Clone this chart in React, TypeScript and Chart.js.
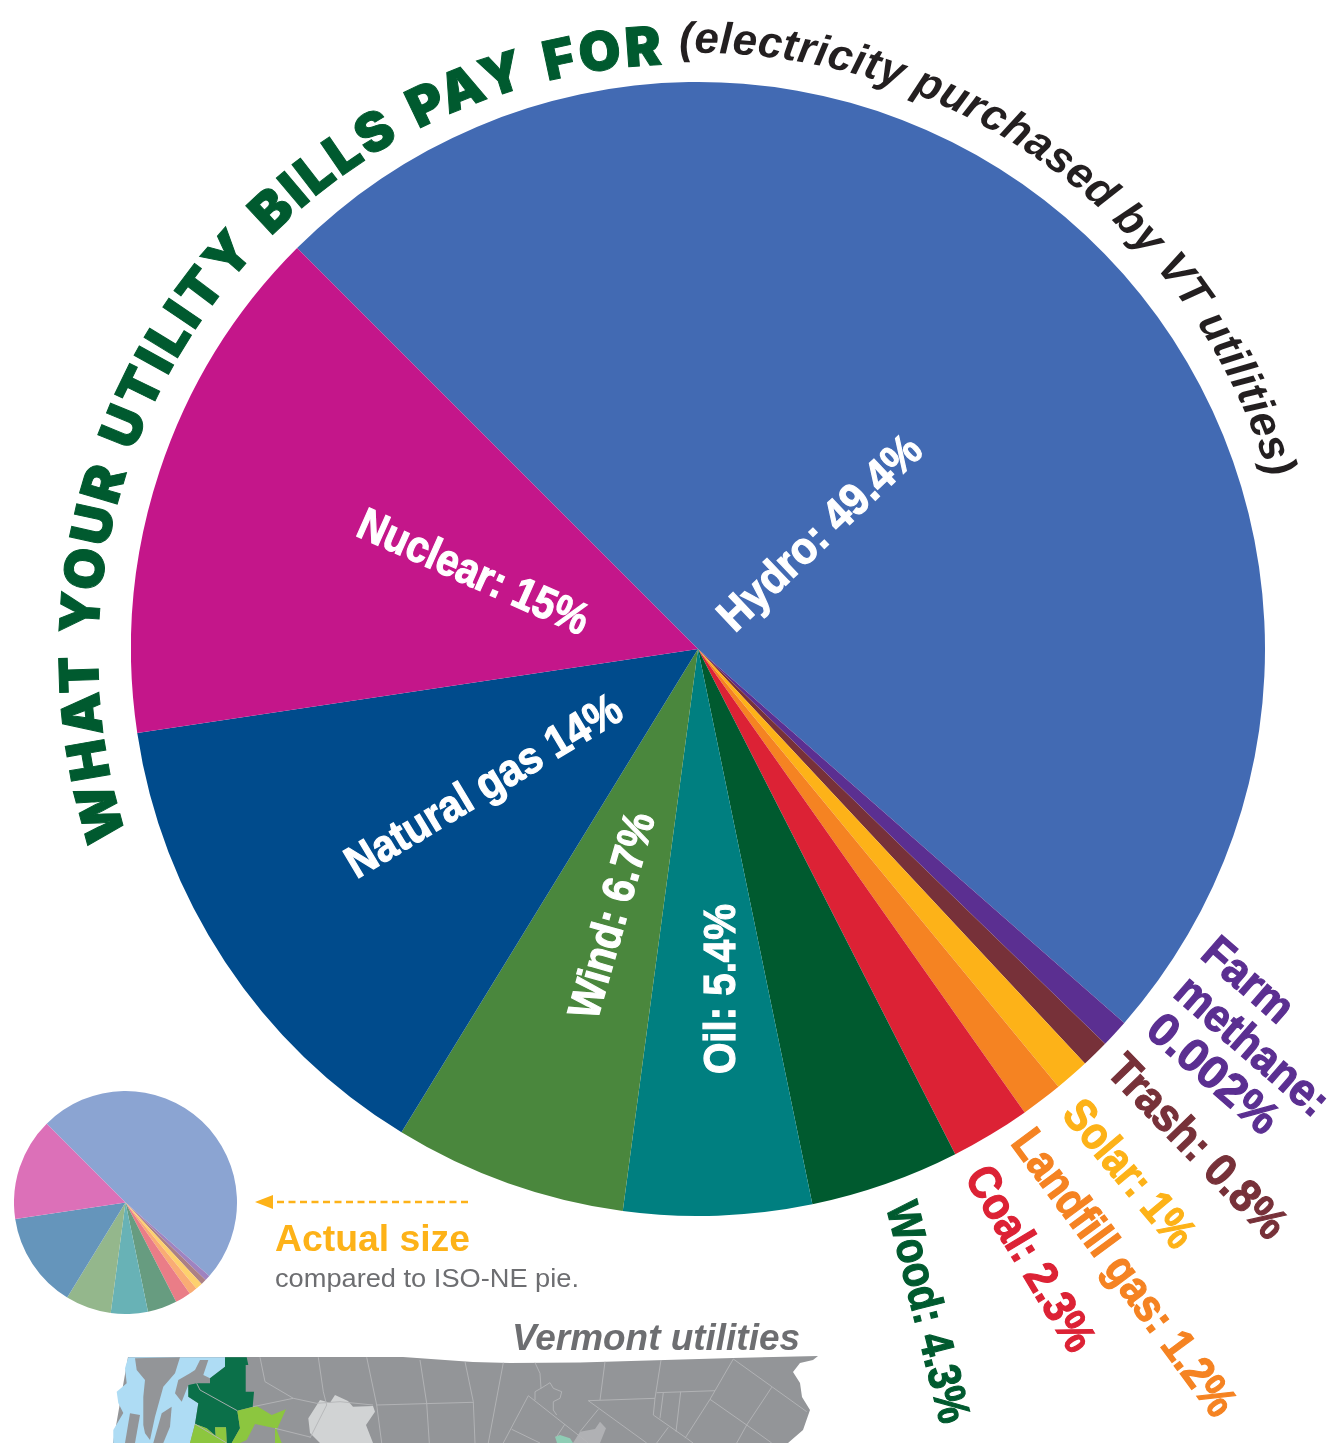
import React, { useEffect, useRef } from "react";
import { Chart, registerables } from "chart.js";

Chart.register(...registerables);

// Electricity purchased by Vermont utilities, clockwise from the hydro slice.
const sources = ["Hydro", "Farm methane", "Trash", "Solar", "Landfill gas", "Coal", "Wood", "Oil", "Wind", "Natural gas", "Nuclear"];
const shares = [49.4, 0.002, 0.8, 1, 1.2, 2.3, 4.3, 5.4, 6.7, 14, 15];
const sliceColors = ["#426ab3", "#5b2f91", "#773139", "#fdb218", "#f58322", "#dc2235", "#005a2f", "#007f80", "#4a873d", "#004b8c", "#c4168a"];
const smallPieColors = ["#8ba4d2", "#9f83c0", "#ab8086", "#fdd16d", "#f9ac74", "#ea7d87", "#679c80", "#68b2b6", "#94b78c", "#6595bb", "#dc70b8"];

// Farm methane's 0.002% is far too thin to see, so its wedge gets the smallest share used elsewhere.
const minVisibleShare = 0.8;
const drawnShares = shares.map((v) => Math.max(v, minVisibleShare));

const pieRotation = 315;

const FONT = '"Liberation Sans", Arial, sans-serif';

type Label = { x: number; y: number; rot: number; len: number; size: number; fill: string };

const labelTexts: Record<string, string> = {
  Hydro: "Hydro: 49.4%",
  Nuclear: "Nuclear: 15%",
  Gas: "Natural gas 14%",
  Wind: "Wind: 6.7%",
  Oil: "Oil: 5.4%",
  Wood: "Wood: 4.3%",
  Coal: "Coal: 2.3%",
  Landfill: "Landfill gas: 1.2%",
  Solar: "Solar: 1%",
  Trash: "Trash: 0.8%",
  Farm: "Farm",
  Methane: "methane:",
  FarmShare: "0.002%",
};

const labelPlacement: Record<string, Label> = {
  Hydro: { x: 819, y: 532, rot: -43.5, len: 262, size: 45, fill: "#fff" },
  Nuclear: { x: 474, y: 571, rot: 24, len: 248, size: 45, fill: "#fff" },
  Gas: { x: 483, y: 785, rot: -31, len: 314, size: 45, fill: "#fff" },
  Wind: { x: 611, y: 915, rot: -74, len: 212, size: 45, fill: "#fff" },
  Oil: { x: 719, y: 989, rot: -90, len: 170, size: 45, fill: "#fff" },
  Wood: { x: 929, y: 1312, rot: 76, len: 226, size: 46, fill: "#005a2f" },
  Coal: { x: 1031, y: 1258, rot: 59, len: 208, size: 46, fill: "#dc2235" },
  Landfill: { x: 1125, y: 1272, rot: 53.5, len: 344, size: 46, fill: "#f58322" },
  Solar: { x: 1130, y: 1173, rot: 50, len: 178, size: 46, fill: "#fdb218" },
  Trash: { x: 1198, y: 1146, rot: 46, len: 236, size: 46, fill: "#773139" },
  Farm: { x: 1249, y: 979, rot: 41, len: 105, size: 46, fill: "#5b2f91" },
  Methane: { x: 1253, y: 1045, rot: 41, len: 188, size: 46, fill: "#5b2f91" },
  FarmShare: { x: 1214, y: 1073, rot: 41, len: 158, size: 46, fill: "#5b2f91" },
};

function arc(cx: number, cy: number, r: number, from: number, to: number) {
  const pt = (deg: number) => {
    const a = (deg * Math.PI) / 180;
    return `${(cx + r * Math.sin(a)).toFixed(2)} ${(cy - r * Math.cos(a)).toFixed(2)}`;
  };
  return `M ${pt(from)} A ${r} ${r} 0 0 1 ${pt(to)}`;
}

// Basemap of Vermont's northern edge
const mapLand = "128,1357 403,1357 473,1362 510,1363 580,1362.5 733,1358 818,1356 813,1360 800,1363 793,1372 800,1383 802,1397 810,1410 803,1430 788,1443 113,1443";
const mapLake = "128.3,1357.3 225,1357.3 225,1366.7 210,1378.3 188.3,1385 188.3,1396.7 198.3,1403.3 195,1424 190,1443 113.3,1443 113.3,1430 123.3,1413 118.3,1403 116.7,1391.7 126.7,1383.3 125,1368.3";
const mapIslands = [
  "135,1358.3 180,1357.3 175,1373.3 163.3,1386.7 155,1416.7 150,1440 145,1433.3 143.3,1425 143.3,1396.7 145,1380 136.7,1370",
  "200,1360 208.3,1360 203.3,1375 210,1378.3 210,1383.3 196.7,1383.3 188.3,1385 181.7,1401.7 175,1393.3 178.3,1380 190,1373.3 195,1370",
  "125,1443 130,1413.3 140,1415 135,1443",
  "153.3,1443 161.7,1413.3 171.7,1406.7 170,1426.7 163.3,1443",
];
const mapDarkGreen = "225,1357.3 246.7,1357.3 248.3,1365 245.7,1365 245.7,1391.7 254,1391.7 252.7,1406.7 237.3,1410.7 240,1428.3 231.7,1443 226.7,1443 226,1427.3 215,1427.3 215.7,1436 206.7,1428.3 195,1424 198.3,1403.3 188.3,1396.7 188.3,1385 196.7,1383.3 210,1383.3 210,1378.3 225,1366.7";
const mapLightGreen = [
  "190,1443 195,1424 206.7,1428.3 215.7,1436 215,1427.3 226,1427.3 226.7,1443",
  "237.3,1410.7 256.7,1406 271.7,1415 286,1409.3 276.7,1430 281.7,1443 275,1443 275,1428.3 255,1424 246.7,1440 240,1443 231.7,1443 240,1428.3",
];
const mapPaleGray = "308.3,1418.3 320,1400 330,1402.7 335,1395 348,1401 353,1406.7 373,1406 375,1411.7 366,1425 373,1443 320,1443 310,1433";
const mapTeal = "555,1436.7 560,1435 570,1438.3 573,1443 557,1443";
const mapMidGray = "573,1443 580,1431.7 595,1429 600,1421.7 606,1428.3 600,1443";
const mapLines = [
  "260,1357.3 265,1381.7 293.3,1398.3 316.7,1403.3 340,1401.7 373,1405",
  "253,1406.7 293.3,1398.3",
  "318.3,1357.3 323.3,1391.7 326.7,1405 310,1438",
  "196.7,1383.3 200,1390 237.3,1410.7",
  "195,1424 226.7,1443",
  "275,1428.3 310,1437",
  "366.7,1357.3 376.7,1405 381.7,1443",
  "420,1360 426.7,1403.3 429.3,1443",
  "465,1361.7 473.3,1401.7 475,1443",
  "503.3,1362.7 488.3,1443",
  "376.7,1405 473.3,1402.3",
  "535,1362.7 540,1373.3 541,1388.3 535,1391.7 535,1400",
  "541,1388.3 550,1382.7 553.3,1388.3 561.7,1391.7 560,1398.3 553.3,1401.7 553.3,1410 556.7,1415",
  "528.3,1395.7 588.3,1443",
  "528.3,1395.7 503.3,1443",
  "511.7,1429.3 540,1443",
  "565,1424 556.7,1436.7",
  "588.3,1400.7 655,1398.3",
  "588.3,1400.7 646.7,1443",
  "598.3,1409.3 580,1431.7",
  "605,1361.7 600,1400",
  "661,1360 655,1398.3 653.3,1415 686.7,1438.3 693,1443",
  "656.7,1392.7 715,1390.7",
  "663.3,1392.7 660,1418.3",
  "680.7,1391.7 676,1431.7",
  "668.3,1427.3 656.7,1443",
  "733.3,1359 710,1399.3 685,1438.3",
  "733.3,1359 806.7,1411.7",
  "710,1399.3 746.7,1425 771.7,1443",
  "771.7,1387.3 746.7,1425 736.7,1443",
];

function makePie(canvas: HTMLCanvasElement, colors: string[]) {
  return new Chart(canvas, {
    type: "pie",
    data: {
      labels: sources,
      datasets: [{ data: drawnShares, backgroundColor: colors, borderWidth: 0 }],
    },
    options: {
      animation: false,
      responsive: false,
      devicePixelRatio: 1,
      rotation: pieRotation,
      layout: { padding: 0 },
      plugins: { legend: { display: false }, tooltip: { enabled: false } },
    },
  });
}

export default function App() {
  const mainRef = useRef<HTMLCanvasElement>(null);
  const smallRef = useRef<HTMLCanvasElement>(null);

  useEffect(() => {
    const main = makePie(mainRef.current!, sliceColors);
    const small = makePie(smallRef.current!, smallPieColors);
    return () => {
      main.destroy();
      small.destroy();
    };
  }, []);

  return (
    <div style={{ position: "absolute", left: 0, top: 0, width: 1330, height: 1443, overflow: "hidden", background: "#fff" }}>
      <svg width={1330} height={1443} style={{ position: "absolute", left: 0, top: 0 }}>
        <polygon points={mapLand} fill="#939598" />
        <polygon points={mapLake} fill="#aedcf4" />
        {mapIslands.map((p, i) => <polygon key={i} points={p} fill="#939598" />)}
        <polygon points={mapDarkGreen} fill="#0b7049" />
        {mapLightGreen.map((p, i) => <polygon key={i} points={p} fill="#8cc63f" />)}
        <polygon points={mapPaleGray} fill="#d1d3d4" />
        <polygon points={mapTeal} fill="#8fcdb5" />
        <polygon points={mapMidGray} fill="#b0b1b4" />
        {mapLines.map((p, i) => <polyline key={i} points={p} fill="none" stroke="#b4b5b8" strokeWidth={0.9} />)}
      </svg>
      <canvas ref={mainRef} width={1134} height={1134} style={{ position: "absolute", left: 131, top: 82, width: 1134, height: 1134 }} />
      <canvas ref={smallRef} width={223} height={223} style={{ position: "absolute", left: 14, top: 1091, width: 223, height: 223 }} />
      <svg width={1330} height={1443} style={{ position: "absolute", left: 0, top: 0 }}>
        <defs>
          <path id="titleArc" d={arc(688, 654, 590, 252, 368)} />
          <path id="subtitleArc" d={arc(698, 649, 596, -1.8, 85)} />
        </defs>
        <text fontFamily='"Inter", sans-serif' fontWeight={900} fontSize={54} fill="#005a2f" stroke="#005a2f" strokeWidth={1} letterSpacing={3.2} wordSpacing={4}>
          <textPath href="#titleArc">WHAT YOUR UTILITY BILLS PAY FOR</textPath>
        </text>
        <text fontFamily={FONT} fontWeight={700} fontStyle="italic" fontSize={44} fill="#231f20" letterSpacing={0.35}>
          <textPath href="#subtitleArc">(electricity purchased by VT utilities)</textPath>
        </text>
        {Object.keys(labelTexts).map((k) => {
          const p = labelPlacement[k];
          return (
            <text
              key={k}
              transform={`translate(${p.x} ${p.y}) rotate(${p.rot})`}
              textAnchor="middle"
              dy="0.35em"
              fontFamily={FONT}
              fontWeight={700}
              fontSize={p.size}
              fill={p.fill}
              stroke={p.fill}
              strokeWidth={1.2}
              textLength={p.len}
              lengthAdjust="spacingAndGlyphs"
            >
              {labelTexts[k]}
            </text>
          );
        })}
        <line x1={468} y1={1202} x2={270} y2={1202} stroke="#fdb218" strokeWidth={2.4} strokeDasharray="7 4.5" />
        <polygon points="255,1202 273,1195 273,1209" fill="#fdb218" />
        <text x={275} y={1251} fontFamily={FONT} fontWeight={700} fontSize={37} fill="#fdb218" textLength={195} lengthAdjust="spacingAndGlyphs">Actual size</text>
        <text x={275} y={1287} fontFamily={FONT} fontSize={26} fill="#6d6e71" textLength={304} lengthAdjust="spacingAndGlyphs">compared to ISO-NE pie.</text>
        <text x={512} y={1350} fontFamily={FONT} fontWeight={700} fontStyle="italic" fontSize={37} fill="#6d6e71" textLength={288} lengthAdjust="spacingAndGlyphs">Vermont utilities</text>
      </svg>
    </div>
  );
}
